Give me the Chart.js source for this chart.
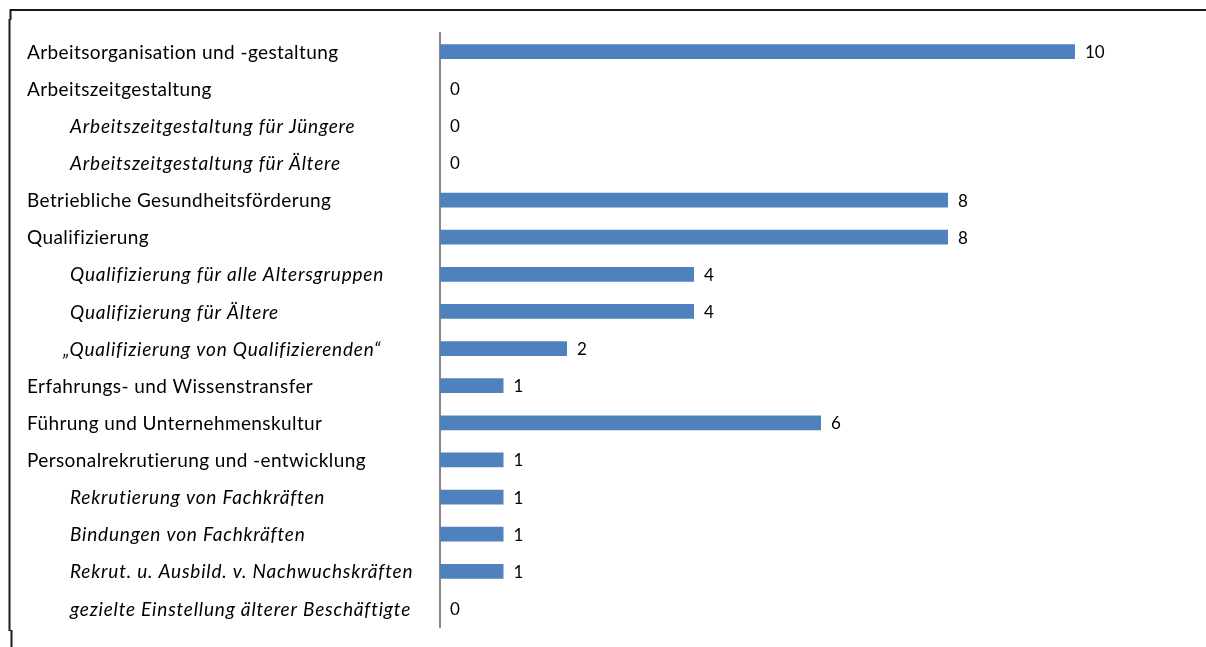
<!DOCTYPE html>
<html>
<head>
<meta charset="utf-8">
<script src="https://cdn.jsdelivr.net/npm/chart.js@4"></script>
<style>
  html, body { margin: 0; padding: 0; background: #fff; }
  canvas { display: block; }
</style>
</head>
<body>
<canvas id="c" width="1206" height="647"></canvas>
<script>
// Maßnahmenbereiche (Haupt- und Unterkategorien)
const categories = [
  'Arbeitsorganisation und -gestaltung',
  'Arbeitszeitgestaltung',
  'Arbeitszeitgestaltung für Jüngere',
  'Arbeitszeitgestaltung für Ältere',
  'Betriebliche Gesundheitsförderung',
  'Qualifizierung',
  'Qualifizierung für alle Altersgruppen',
  'Qualifizierung für Ältere',
  '„Qualifizierung von Qualifizierenden“',
  'Erfahrungs- und Wissenstransfer',
  'Führung und Unternehmenskultur',
  'Personalrekrutierung und -entwicklung',
  'Rekrutierung von Fachkräften',
  'Bindungen von Fachkräften',
  'Rekrut. u. Ausbild. v. Nachwuchskräften',
  'gezielte Einstellung älterer Beschäftigte'
];

// Anzahl der Nennungen
const counts = [10, 0, 0, 0, 8, 8, 4, 4, 2, 1, 6, 1, 1, 1, 1, 0];

// Unterkategorien (kursiv, eingerückt)
const isSubcategory = [false, false, true, true, false, false, true, true, true, false, false, false, true, true, true, true];

const FONT = 'Lato, "Open Sans", sans-serif';

// Rahmen um die Grafik
const framePlugin = {
  id: 'frame',
  beforeDraw(chart) {
    const ctx = chart.ctx;
    ctx.save();
    ctx.fillStyle = '#ffffff';
    ctx.fillRect(0, 0, chart.width, chart.height);
    ctx.strokeStyle = '#1a1a1a';
    ctx.lineWidth = 2;
    ctx.beginPath();
    ctx.moveTo(10, 10);
    ctx.lineTo(chart.width, 10);
    ctx.stroke();
    ctx.beginPath();
    ctx.moveTo(10.5, 9);
    ctx.lineTo(10.5, 20);
    ctx.moveTo(9.5, 19);
    ctx.lineTo(9.5, 631);
    ctx.moveTo(11.5, 630);
    ctx.lineTo(11.5, chart.height);
    ctx.stroke();
    ctx.restore();
  }
};

// Kategoriebeschriftungen links und Werte rechts neben den Balken
const labelPlugin = {
  id: 'rowLabels',
  afterDatasetsDraw(chart) {
    const ctx = chart.ctx;
    const yScale = chart.scales.y;
    const meta = chart.getDatasetMeta(0);
    ctx.save();
    ctx.fillStyle = '#000000';
    ctx.textBaseline = 'middle';
    ctx.textAlign = 'left';
    categories.forEach((name, i) => {
      const y = yScale.getPixelForTick(i);
      const sub = isSubcategory[i];
      if (sub) {
        ctx.font = 'italic 19px ' + FONT;
        ctx.letterSpacing = '0.8px';
      } else {
        ctx.font = '19px ' + FONT;
        ctx.letterSpacing = '0.4px';
      }
      let x = sub ? 70 : 27;
      if (name.startsWith('„')) x = 63;
      ctx.fillText(name, x, y + 1);
      const bar = meta.data[i];
      ctx.font = '17px ' + FONT;
      ctx.letterSpacing = '0px';
      ctx.fillText(String(counts[i]), bar.x + 10, y + 1);
    });
    ctx.restore();
  }
};

new Chart(document.getElementById('c'), {
  type: 'bar',
  data: {
    labels: categories,
    datasets: [{
      data: counts,
      backgroundColor: '#4F81BD',
      borderWidth: 0,
      barPercentage: 0.4,
      categoryPercentage: 1.0
    }]
  },
  options: {
    indexAxis: 'y',
    responsive: false,
    animation: false,
    devicePixelRatio: 1,
    layout: { padding: { left: 440, right: 131, top: 33, bottom: 20 } },
    plugins: { legend: { display: false }, tooltip: { enabled: false } },
    scales: {
      x: { display: false, min: 0, max: 10 },
      y: {
        ticks: { display: false },
        grid: { display: false, drawTicks: false },
        border: { display: true, color: '#868686', width: 2 },
        afterFit(scale) { scale.width = 0; }
      }
    }
  },
  plugins: [framePlugin, labelPlugin]
});
</script>
</body>
</html>
